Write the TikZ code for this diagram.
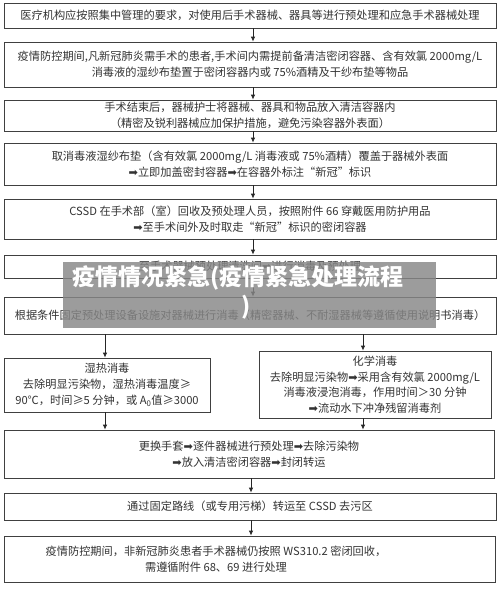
\documentclass[tikz,border=0pt]{standalone}
\usepackage{fontspec}
\setmainfont{Noto Sans CJK SC}
\newfontfamily\dejavu{DejaVu Sans}
\usetikzlibrary{arrows.meta}
\newcommand\thickra{{\dejavu ➡}}
\definecolor{bannergray}{RGB}{135,135,135}
\tikzset{
  box/.style={draw=black!75, line width=0.8pt, rectangle, inner sep=0pt, align=center,
    font=\fontsize{11.2pt}{16pt}\selectfont, text=black!80},
  txt/.style={inner sep=0pt, align=center, font=\fontsize{11.2pt}{16pt}\selectfont, text=black!80},
  arr/.style={draw=black!85, line width=0.8pt, -{Latex[length=5pt,width=4.5pt]}},
  banner/.style={fill=bannergray, fill opacity=0.82, draw=none, inner sep=0pt},
  bannertxt/.style={inner sep=0pt, text=white, font=\fontsize{23pt}{28pt}\selectfont\bfseries}
}
\begin{document}
\begin{tikzpicture}[x=1pt,y=-1pt]
\useasboundingbox (0,0) rectangle (500,589);
\fill[white] (0,0) rectangle (500,589);

\node[box, minimum width=492pt, minimum height=25pt] (B1) at (250,15.5)
  {医疗机构应按照集中管理的要求，对使用后手术器械、器具等进行预处理和应急手术器械处理};
\node[box, minimum width=492pt, minimum height=45pt] (B2) at (250,64.5)
  {疫情防控期间,凡新冠肺炎需手术的患者,手术间内需提前备清洁密闭容器、含有效氯 2000mg/L\\
   消毒液的湿纱布垫置于密闭容器内或 75\%酒精及干纱布垫等物品};
\node[box, minimum width=492pt, minimum height=31pt] (B3) at (250,115.5)
  {手术结束后，器械护士将器械、器具和物品放入清洁容器内\\
   （精密及锐利器械应加保护措施，避免污染容器外表面）};
\node[box, minimum width=492pt, minimum height=42pt] (B4) at (250,164)
  {取消毒液湿纱布垫（含有效氯 2000mg/L 消毒液或 75\%酒精）覆盖于器械外表面\\
   \thickra 立即加盖密封容器\thickra 在容器外标注“新冠”标识};
\node[box, minimum width=492pt, minimum height=40pt] (B5) at (250,219)
  {CSSD 在手术部（室）回收及预处理人员，按照附件 66 穿戴医用防护用品\\
   \thickra 至手术间外及时取走“新冠”标识的密闭容器};
\node[box, minimum width=492pt, minimum height=23pt] (B6) at (250,266.5)
  {至手术器械预处理清洗间\thickra 进行消毒及预处理};
\node[box, minimum width=492pt, minimum height=37pt] (B7) at (250,315.5)
  {根据条件固定预处理设备设施对器械进行消毒（精密器械、不耐湿器械等遵循使用说明书消毒）};
\node[box, minimum width=206pt, minimum height=54pt] (L) at (107,385)
  {湿热消毒\\
   去除明显污染物，湿热消毒温度≥\\
   90℃，时间≥5 分钟，或 A\textsubscript{0}值≥3000};
\node[box, minimum width=232pt, minimum height=67pt, font=\fontsize{11.2pt}{15.5pt}\selectfont] (R) at (375,384.5)
  {化学消毒\\
   去除明显污染物\thickra 采用含有效氯 2000mg/L\\
   消毒液浸泡消毒，作用时间＞30 分钟\\
   \thickra 流动水下冲净残留消毒剂};
\node[box, minimum width=490pt, minimum height=48pt] (B8) at (249,454)
  {更换手套\thickra 逐件器械进行预处理\thickra 去除污染物\\
   \thickra 放入清洁密闭容器\thickra 封闭转运};
\node[box, minimum width=492pt, minimum height=27pt] (B9) at (250,506.5)
  {通过固定路线（或专用污梯）转运至 CSSD 去污区};
\node[box, minimum width=491pt, minimum height=46pt] (B10) at (249.5,559) {};
\node[txt] (B10t) at (216,559)
  {疫情防控期间，非新冠肺炎患者手术器械仍按照 WS310.2 密闭回收，\\
   需遵循附件 68、69 进行处理};

\coordinate (ax) at (253,0);
\coordinate (bx) at (251,0);
\coordinate (lx) at (105,0);
\coordinate (rx) at (363,0);
\draw[arr] (B1.south -| ax) -- (B2.north -| ax);
\draw[arr] (B2.south -| ax) -- (B3.north -| ax);
\draw[arr] (B3.south -| ax) -- (B4.north -| ax);
\draw[arr] (B4.south -| ax) -- (B5.north -| ax);
\draw[arr] (B5.south -| ax) -- (B6.north -| ax);
\draw[arr] (B6.south -| ax) -- (B7.north -| ax);
\draw[arr] (B7.south -| lx) -- (L.north -| lx);
\draw[arr] (B7.south -| rx) -- (R.north -| rx);
\draw[arr] (L.south -| lx) -- (B8.north -| lx);
\draw[arr] (R.south -| rx) -- (B8.north -| rx);
\draw[arr] (B8.south -| bx) -- (B9.north -| bx);
\draw[arr] (B9.south -| bx) -- (B10.north -| bx);

% overlay banner
\path[banner] (63,262) rectangle (436,328);
\node[bannertxt] (T1) at (238,278) {疫情情况紧急(疫情紧急处理流程};
\node[bannertxt] (T2) at (246,307) {)};
\end{tikzpicture}
\end{document}
